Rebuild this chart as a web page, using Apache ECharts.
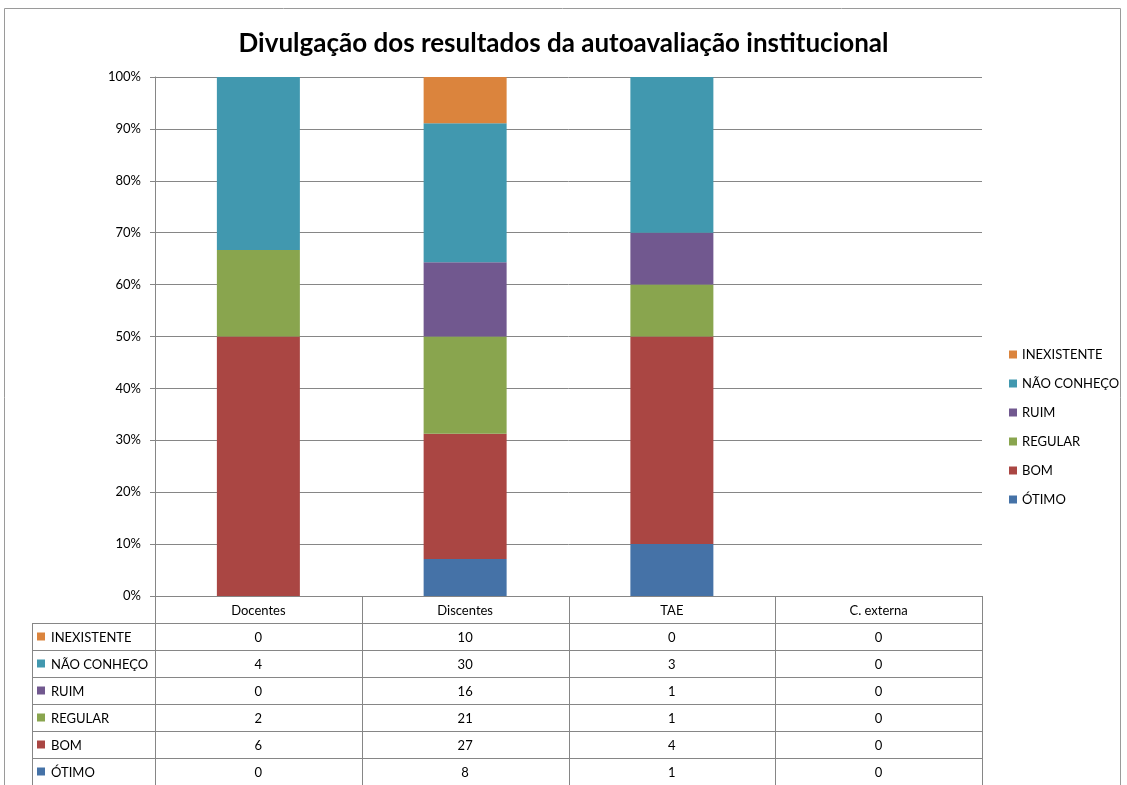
<!DOCTYPE html>
<html>
<head>
<meta charset="utf-8">
<script src="https://cdn.jsdelivr.net/npm/echarts@6/dist/echarts.min.js"></script>
<style>
	html, body { margin: 0; padding: 0; background: #fff; }
	#main { width: 1127px; height: 785px; }
</style>
</head>
<body>
<div id="main"></div>
<script>
var categorias = ['Docentes', 'Discentes', 'TAE', 'C. externa'];
var otimo = [0, 8, 1, 0];
var bom = [6, 27, 4, 0];
var regular = [2, 21, 1, 0];
var ruim = [0, 16, 1, 0];
var naoConheco = [4, 30, 3, 0];
var inexistente = [0, 10, 0, 0];
var nomesSeries = ['ÓTIMO', 'BOM', 'REGULAR', 'RUIM', 'NÃO CONHEÇO', 'INEXISTENTE'];
var coresSeries = ['#4572A7', '#AA4643', '#89A54E', '#71588F', '#4198AF', '#DB843D'];
var rotulosY = ['0%', '10%', '20%', '30%', '40%', '50%', '60%', '70%', '80%', '90%', '100%'];

var valores = [otimo, bom, regular, ruim, naoConheco, inexistente];
var fonte = 'Lato, "Open Sans", sans-serif';

function calcularTotais() {
	return categorias.map(function(c, i) {
		var total = 0;
		valores.forEach(function(v) { total += v[i]; });
		return total;
	});
}

var totais = calcularTotais();

var myChart = echarts.init(document.getElementById('main'));

var option = {
	animation: false,
	textStyle: { fontFamily: fonte },
	title: {
		text: 'Divulgação dos resultados da autoavaliação institucional',
		left: 'center',
		top: 26,
		textStyle: { fontFamily: fonte, fontSize: 26, fontWeight: 'bold', color: '#000' }
	},
	legend: {
		orient: 'vertical',
		left: 1004,
		top: 343,
		icon: 'rect',
		itemWidth: 8,
		itemHeight: 8,
		itemGap: 16,
		data: nomesSeries.slice().reverse(),
		textStyle: { fontFamily: fonte, fontSize: 13, color: '#000' }
	},
	grid: {
		left: 155,
		top: 77,
		width: 827,
		height: 519
	},
	xAxis: {
		type: 'category',
		data: categorias,
		axisLine: { lineStyle: { color: '#868686' } },
		axisTick: { show: false },
		axisLabel: { show: false }
	},
	yAxis: {
		type: 'value',
		min: 0,
		max: 100,
		interval: 10,
		axisLine: { show: true, lineStyle: { color: '#868686' } },
		axisTick: { show: true, length: 5, lineStyle: { color: '#868686' } },
		splitLine: { lineStyle: { color: '#868686' } },
		axisLabel: {
			fontFamily: fonte,
			fontSize: 13,
			color: '#000',
			margin: 14,
			formatter: function(v) { return rotulosY[Math.round(v / 10)]; }
		}
	},
	series: nomesSeries.map(function(nome, s) {
		return {
			name: nome,
			type: 'bar',
			stack: 'total',
			barWidth: 83,
			itemStyle: { color: coresSeries[s] },
			data: valores[s].map(function(v, i) {
				return totais[i] ? v / totais[i] * 100 : 0;
			})
		};
	})
};

myChart.setOption(option);

// tabela de dados abaixo do gráfico
function montarTabela() {
	var elementos = [];
	var corLinha = '#868686';
	var x0 = myChart.convertToPixel({ xAxisIndex: 0 }, 0);
	var x1 = myChart.convertToPixel({ xAxisIndex: 0 }, 1);
	var larguraCat = x1 - x0;
	var esquerdaEixo = x0 - larguraCat / 2;
	var direitaEixo = esquerdaEixo + larguraCat * categorias.length;
	var topoTabela = myChart.convertToPixel({ yAxisIndex: 0 }, 0);
	var alturaLinha = 27;
	var esquerdaTabela = 32;

	// borda externa
	elementos.push({
		type: 'rect',
		shape: { x: 4.5, y: 8.5, width: 1116, height: 800 },
		style: { fill: 'none', stroke: '#9a9a9a', lineWidth: 1 },
		silent: true
	});

	// cabeçalho
	categorias.forEach(function(c, i) {
		var cx = myChart.convertToPixel({ xAxisIndex: 0 }, i);
		elementos.push({
			type: 'text',
			x: cx, y: topoTabela + alturaLinha / 2 + 1,
			style: { text: c, fontFamily: fonte, fontSize: 13, fill: '#000', align: 'center', verticalAlign: 'middle' }
		});
	});
	for (var k = 0; k <= categorias.length; k++) {
		var xl = Math.round(esquerdaEixo + k * larguraCat) + 0.5;
		elementos.push({
			type: 'line',
			shape: { x1: xl, y1: topoTabela, x2: xl, y2: 800 },
			style: { stroke: corLinha, lineWidth: 1 }
		});
	}

	// linhas de dados (INEXISTENTE no topo)
	var ordem = nomesSeries.slice().reverse();
	ordem.forEach(function(nome, r) {
		var s = nomesSeries.indexOf(nome);
		var yTopo = topoTabela + alturaLinha * (r + 1);
		var yl = Math.round(yTopo) + 0.5;
		elementos.push({
			type: 'line',
			shape: { x1: esquerdaTabela, y1: yl, x2: direitaEixo, y2: yl },
			style: { stroke: corLinha, lineWidth: 1 }
		});
		elementos.push({
			type: 'rect',
			shape: { x: esquerdaTabela + 5, y: yTopo + alturaLinha / 2 - 4, width: 8, height: 8 },
			style: { fill: coresSeries[s] }
		});
		elementos.push({
			type: 'text',
			x: esquerdaTabela + 19, y: yTopo + alturaLinha / 2 + 1,
			style: { text: nome, fontFamily: fonte, fontSize: 13, fill: '#000', align: 'left', verticalAlign: 'middle' }
		});
		categorias.forEach(function(c, i) {
			var cx = myChart.convertToPixel({ xAxisIndex: 0 }, i);
			elementos.push({
				type: 'text',
				x: cx, y: yTopo + alturaLinha / 2 + 1,
				style: { text: String(valores[s][i]), fontFamily: fonte, fontSize: 13, fill: '#000', align: 'center', verticalAlign: 'middle' }
			});
		});
	});
	var xe = esquerdaTabela + 0.5;
	elementos.push({
		type: 'line',
		shape: { x1: xe, y1: topoTabela + alturaLinha, x2: xe, y2: 800 },
		style: { stroke: corLinha, lineWidth: 1 }
	});

	myChart.setOption({ graphic: { elements: elementos } });
}

montarTabela();
</script>
</body>
</html>
